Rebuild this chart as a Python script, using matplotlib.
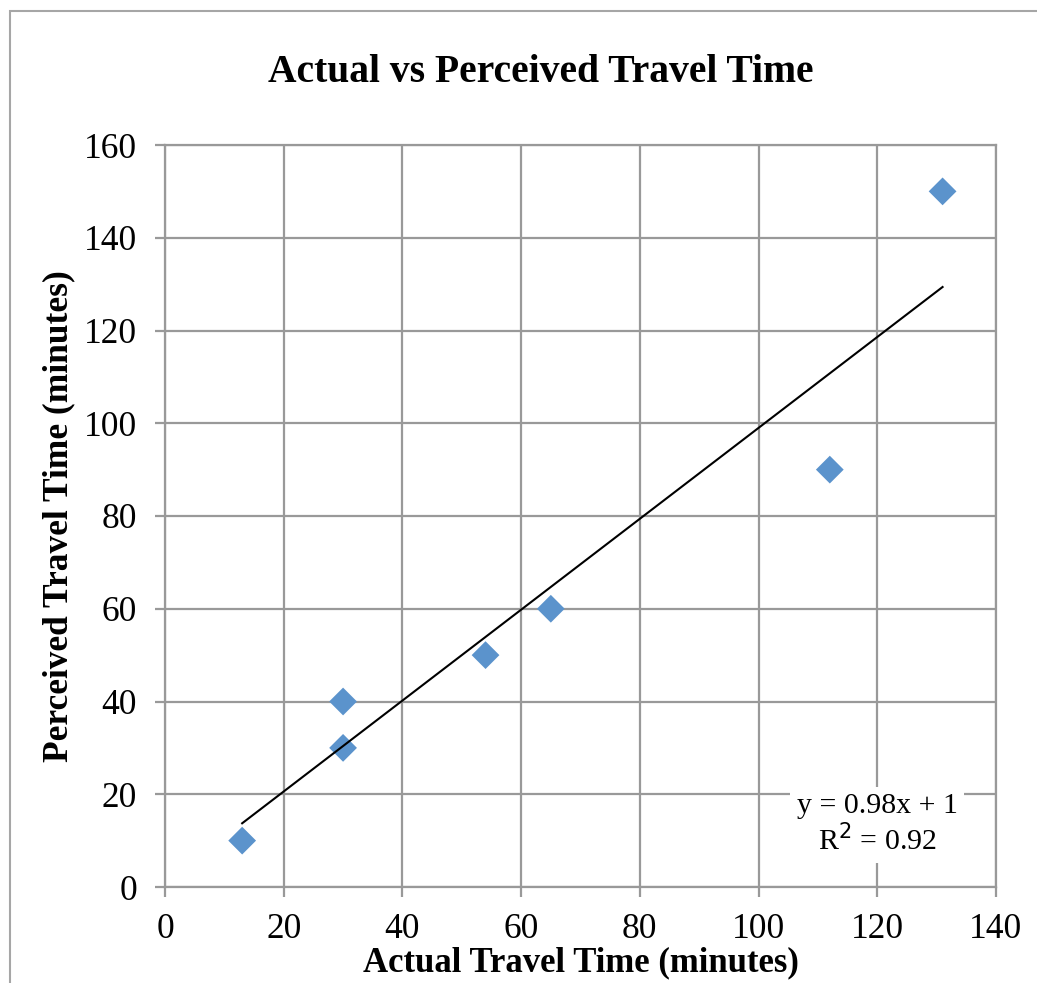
import numpy as np
import matplotlib.pyplot as plt
from matplotlib.patches import Rectangle

# survey results (minutes)
actual = [13, 30, 30, 54, 65, 112, 131]
perceived = [10, 40, 30, 50, 60, 90, 150]

# linear trendline as reported
slope = 0.98
intercept = 1
r_squared = 0.92

x_ticks = [0, 20, 40, 60, 80, 100, 120, 140]
y_ticks = [0, 20, 40, 60, 80, 100, 120, 140, 160]

plt.rcParams['font.family'] = ['Liberation Serif', 'DejaVu Serif']

fig = plt.figure(figsize=(10.37, 9.83), dpi=100)
ax = fig.add_axes([165 / 1037, 1 - 887 / 983, (996 - 165) / 1037, (887 - 145) / 983])

# chart border
fig.patches.append(Rectangle((10 / 1037, -0.1), 1.2, 1 - 11 / 983 + 0.1,
                             transform=fig.transFigure, fill=False,
                             edgecolor='#a6a6a6', linewidth=1.5, zorder=0))

grid_c = '#999999'
ax.set_xlim(0, 140)
ax.set_ylim(0, 160)
ax.set_xticks(x_ticks)
ax.set_yticks(y_ticks)
ax.grid(True, color=grid_c, linewidth=1.6)
ax.set_axisbelow(True)
for s in ax.spines.values():
    s.set_color(grid_c)
    s.set_linewidth(1.6)
ax.tick_params(direction='out', length=7, width=1.6, color=grid_c,
               labelsize=25.5)
ax.tick_params(axis='y', pad=13)
ax.tick_params(axis='x', pad=12)

ax.scatter(actual, perceived, marker='D', s=200, color='#5b93cc',
           edgecolors='none', zorder=3)

xs = np.array([min(actual), max(actual)])
ax.plot(xs, slope * xs + intercept, color='black', linewidth=1.5, zorder=4)

ax.text(0.857, 0.084, f'y = {slope:.2f}x + {intercept}\nR$^2$ = {r_squared:.2f}',
        transform=ax.transAxes, ha='center', va='center', fontsize=21.5,
        linespacing=1.15,
        bbox=dict(facecolor='white', edgecolor='none', pad=5), zorder=5)

fig.text(541 / 1037, 1 - 72 / 983, 'Actual vs Perceived Travel Time',
         ha='center', va='center', fontsize=28.5, fontweight='bold')
ax.set_xlabel('Actual Travel Time (minutes)', fontsize=25, fontweight='bold',
              labelpad=0)
ax.set_ylabel('Perceived Travel Time (minutes)', fontsize=25.5, fontweight='bold',
              labelpad=6)

fig.savefig('out.png', dpi=100)
